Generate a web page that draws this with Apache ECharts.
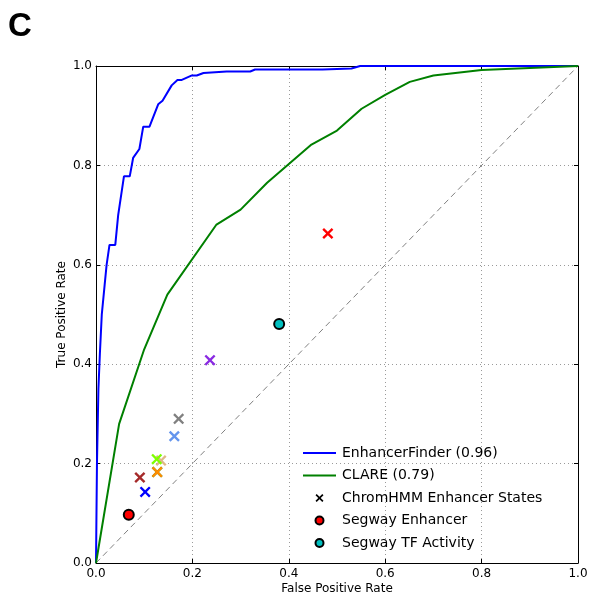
<!DOCTYPE html>
<html>
<head>
<meta charset="utf-8">
<script src="https://cdn.jsdelivr.net/npm/echarts@6/dist/echarts.min.js"></script>
<style>html,body{margin:0;padding:0;background:#fff}#c{width:591px;height:597px}</style>
</head>
<body>
<div id="c"></div>
<script>
// EnhancerFinder ROC curve
const efFPR = [0, 0.002, 0.005, 0.008, 0.012, 0.018, 0.022, 0.028, 0.04, 0.046, 0.058, 0.07, 0.077, 0.09, 0.098, 0.111, 0.129, 0.138, 0.157, 0.169, 0.178, 0.199, 0.209, 0.223, 0.271, 0.32, 0.33, 0.47, 0.53, 0.548, 1.0];
const efTPR = [0, 0.2, 0.35, 0.42, 0.5, 0.56, 0.6, 0.64, 0.64, 0.7, 0.778, 0.778, 0.815, 0.833, 0.878, 0.878, 0.923, 0.93, 0.961, 0.972, 0.972, 0.981, 0.981, 0.986, 0.989, 0.989, 0.993, 0.993, 0.995, 1.0, 1.0];
// CLARE ROC curve
const clareFPR = [0, 0.048, 0.1, 0.148, 0.25, 0.3, 0.355, 0.447, 0.5, 0.551, 0.6, 0.651, 0.7, 0.8, 1.0];
const clareTPR = [0, 0.28, 0.43, 0.54, 0.681, 0.711, 0.765, 0.842, 0.87, 0.914, 0.942, 0.968, 0.981, 0.992, 1.0];
// Random classifier diagonal
const diagFPR = [0, 1];
const diagTPR = [0, 1];
// ChromHMM enhancer states
const chromFPR = [0.481, 0.2365, 0.1715, 0.1625, 0.135, 0.126, 0.127, 0.127, 0.091, 0.102];
const chromTPR = [0.663, 0.408, 0.290, 0.255, 0.206, 0.209, 0.183, 0.183, 0.172, 0.143];
const chromColors = ['#ff0000', '#8a2be2', '#808080', '#6495ed', '#deb887', '#7fff00', '#228b22', '#ff8c00', '#a52a2a', '#0000ff'];
// Segway points
const segEnhFPR = [0.068];
const segEnhTPR = [0.097];
const segTfFPR = [0.380];
const segTfTPR = [0.481];
// tick labels
const tickValues = [0, 0.2, 0.4, 0.6, 0.8, 1.0];
const tickLabels = ['0.0', '0.2', '0.4', '0.6', '0.8', '1.0'];

const zip = (xs, ys) => xs.map((x, i) => [x, ys[i]]);
const X_PATH = 'path://M0,1.5L1.5,0L5,3.5L8.5,0L10,1.5L6.5,5L10,8.5L8.5,10L5,6.5L1.5,10L0,8.5L3.5,5Z';
const LINE_PATH = 'path://M0,0L33,0L33,2L0,2Z';
const FONT = 'DejaVu Sans';
const fmt = v => { const i = tickValues.findIndex(t => Math.abs(t - v) < 1e-9); return i >= 0 ? tickLabels[i] : ''; };

const grid = { left: 96, right: 13, top: 66, bottom: 34, containLabel: false, outerBoundsMode: 'none' };
const gridLine = { show: true, lineStyle: { color: '#9a9a9a', type: [1, 3], width: 1 } };
const axLine = { show: true, onZero: false, lineStyle: { color: '#000', width: 1 } };
const axTick = { show: true, inside: true, length: 4, lineStyle: { color: '#000' } };

const chart = echarts.init(document.getElementById('c'), null, { renderer: 'canvas' });
chart.setOption({
  animation: false,
  backgroundColor: '#fff',
  title: { text: 'C', left: 3, top: 5, textStyle: { fontFamily: 'Liberation Sans', fontWeight: 'bold', fontSize: 33, color: '#000' } },
  grid: grid,
  xAxis: [
    { type: 'value', min: 0, max: 1, interval: 0.2, position: 'bottom',
      name: 'False Positive Rate', nameLocation: 'middle', nameGap: 20, nameMoveOverlap: false,
      nameTextStyle: { fontFamily: FONT, fontSize: 12, color: '#000' },
      axisLine: axLine, axisTick: axTick, splitLine: gridLine,
      axisLabel: { formatter: fmt, fontFamily: FONT, fontSize: 12, color: '#000', margin: 5 } },
    { type: 'value', min: 0, max: 1, interval: 0.2, position: 'top',
      axisLine: axLine, axisTick: axTick, splitLine: { show: false }, axisLabel: { show: false } }
  ],
  yAxis: [
    { type: 'value', min: 0, max: 1, interval: 0.2, position: 'left',
      name: 'True Positive Rate', nameLocation: 'middle', nameGap: 28, nameMoveOverlap: false,
      nameTextStyle: { fontFamily: FONT, fontSize: 12, color: '#000' },
      axisLine: axLine, axisTick: axTick, splitLine: gridLine,
      axisLabel: { formatter: fmt, fontFamily: FONT, fontSize: 12, color: '#000', margin: 4 } },
    { type: 'value', min: 0, max: 1, interval: 0.2, position: 'right',
      axisLine: axLine, axisTick: axTick, splitLine: { show: false }, axisLabel: { show: false } }
  ],
  legend: {
    orient: 'vertical', left: 298, top: 441,
    itemWidth: 33, itemHeight: 8, itemGap: 8.5,
    textStyle: { fontFamily: FONT, fontSize: 14, color: '#000', lineHeight: 14, padding: [0, 0, 0, 1] },
    data: [
      { name: 'EnhancerFinder (0.96)', icon: LINE_PATH },
      { name: 'CLARE (0.79)', icon: LINE_PATH },
      { name: 'ChromHMM Enhancer States', icon: X_PATH },
      { name: 'Segway Enhancer', icon: 'circle' },
      { name: 'Segway TF Activity', icon: 'circle' }
    ]
  },
  series: [
    { name: 'EnhancerFinder (0.96)', type: 'line', data: zip(efFPR, efTPR), showSymbol: false, symbol: 'none',
      lineStyle: { color: '#0000ff', width: 2 }, itemStyle: { color: '#0000ff' }, z: 3 },
    { name: 'CLARE (0.79)', type: 'line', data: zip(clareFPR, clareTPR), showSymbol: false, symbol: 'none',
      lineStyle: { color: '#008000', width: 2 }, itemStyle: { color: '#008000' }, z: 3 },
    { name: 'diagonal', type: 'line', data: zip(diagFPR, diagTPR), showSymbol: false, symbol: 'none',
      lineStyle: { color: '#808080', width: 1, type: [6, 4] }, z: 2 },
    { name: 'ChromHMM Enhancer States', type: 'scatter', symbol: X_PATH, symbolSize: 11,
      itemStyle: { color: '#000', opacity: 1 },
      data: chromFPR.map((x, i) => ({ value: [x, chromTPR[i]], itemStyle: { color: chromColors[i], opacity: 1 } })), z: 4 },
    { name: 'Segway Enhancer', type: 'scatter', symbol: 'circle', symbolSize: 10,
      itemStyle: { color: '#ff0000', borderColor: '#000', borderWidth: 2, opacity: 1 }, data: zip(segEnhFPR, segEnhTPR), z: 4 },
    { name: 'Segway TF Activity', type: 'scatter', symbol: 'circle', symbolSize: 10,
      itemStyle: { color: '#00bfbf', borderColor: '#000', borderWidth: 2, opacity: 1 }, data: zip(segTfFPR, segTfTPR), z: 4 }
  ]
});
</script>
</body>
</html>
